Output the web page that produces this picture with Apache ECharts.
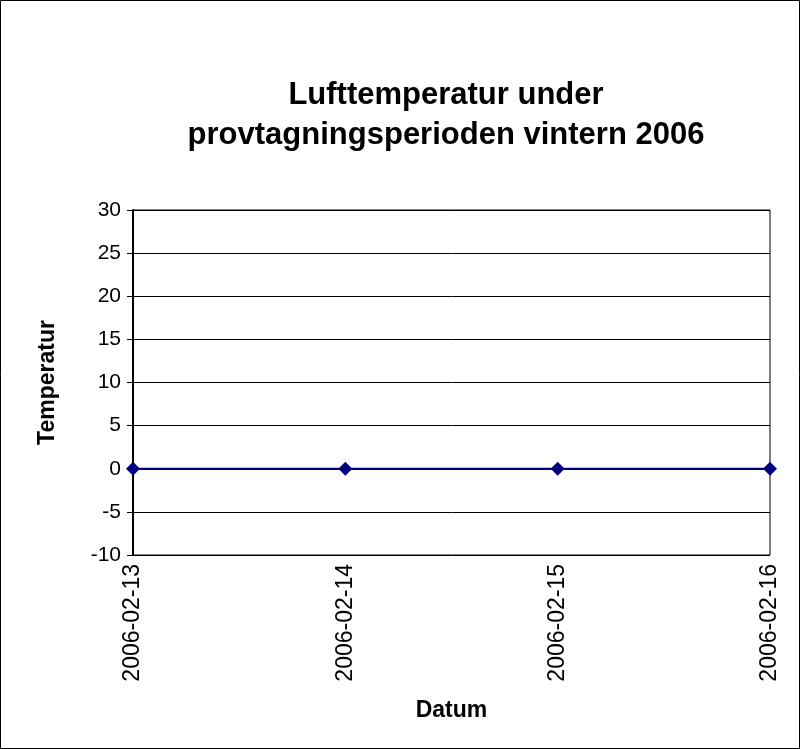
<!DOCTYPE html>
<html>
<head>
<meta charset="utf-8">
<script src="https://cdn.jsdelivr.net/npm/echarts@6/dist/echarts.min.js"></script>
<style>
html, body { margin: 0; padding: 0; background: #fff; }
#chart { width: 800px; height: 749px; }
</style>
</head>
<body>
<div id="chart"></div>
<script>
// data
var dates = ['2006-02-13', '2006-02-14', '2006-02-15', '2006-02-16'];
var temps = [0, 0, 0, 0];
var yMin = -10, yMax = 30, yStep = 5;

var chart = echarts.init(document.getElementById('chart'));

var font = 'Liberation Sans, Arial, sans-serif';

var option = {
	animation: false,
	backgroundColor: '#fff',
	title: {
		text: 'Lufttemperatur under\nprovtagningsperioden vintern 2006',
		left: 441,
		top: 70,
		textAlign: 'center',
		textStyle: {
			fontFamily: font,
			fontSize: 31,
			fontWeight: 'bold',
			color: '#000',
			lineHeight: 40
		}
	},
	grid: {
		left: 133,
		right: 30,
		top: 210,
		bottom: 194,
		show: true,
		borderColor: '#000',
		borderWidth: 1,
		containLabel: false
	},
	graphic: [{
		type: 'rect',
		shape: { x: 0.5, y: 0.5, width: 799, height: 748 },
		style: { fill: null, stroke: '#000', lineWidth: 1 }
	}],
	xAxis: [{
		type: 'category',
		data: dates,
		boundaryGap: false,
		name: 'Datum',
		nameLocation: 'middle',
		nameGap: 144,
		nameTextStyle: { fontFamily: font, fontSize: 23, fontWeight: 'bold', color: '#000' },
		axisLine: { lineStyle: { color: '#000', width: 2 } },
		axisTick: { show: true, length: 6, lineStyle: { color: '#000' } },
		axisLabel: { rotate: 90, margin: 9, fontFamily: font, fontSize: 23, color: '#000' },
		splitLine: { show: false }
	}, {
		type: 'category',
		data: dates,
		boundaryGap: false,
		position: 'bottom',
		axisLine: { show: false },
		axisTick: { show: true, inside: true, length: 5, lineStyle: { color: '#000' } },
		axisLabel: { show: false },
		splitLine: { show: false }
	}],
	yAxis: [{
		type: 'value',
		min: yMin,
		max: yMax,
		interval: yStep,
		name: 'Temperatur',
		nameLocation: 'middle',
		nameRotate: 90,
		nameGap: 74,
		nameTextStyle: { fontFamily: font, fontSize: 23, fontWeight: 'bold', color: '#000' },
		axisLine: { show: true, lineStyle: { color: '#000', width: 2 } },
		axisTick: { show: true, length: 6, lineStyle: { color: '#000' } },
		axisLabel: { margin: 12, fontFamily: font, fontSize: 21, color: '#000' },
		splitLine: { show: true, lineStyle: { color: '#000', width: 1 } }
	}, {
		type: 'value',
		min: yMin,
		max: yMax,
		interval: yStep,
		position: 'left',
		axisLine: { show: false },
		axisTick: { show: true, inside: true, length: 5, lineStyle: { color: '#000' } },
		axisLabel: { show: false },
		splitLine: { show: false }
	}],
	series: [{
		type: 'line',
		data: temps,
		xAxisIndex: 0,
		yAxisIndex: 0,
		symbol: 'diamond',
		symbolSize: 14,
		clip: false,
		lineStyle: { color: '#000080', width: 2 },
		itemStyle: { color: '#000080' }
	}]
};

chart.setOption(option);
</script>
</body>
</html>
